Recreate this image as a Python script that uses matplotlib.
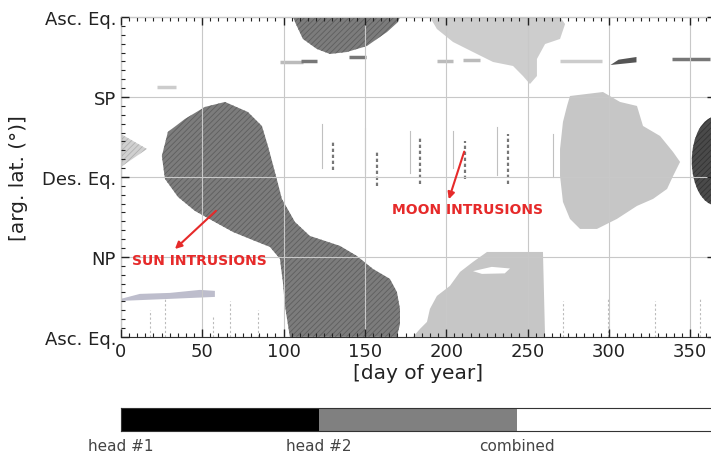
import numpy as np
import matplotlib
matplotlib.use("Agg")
import matplotlib.pyplot as plt
from matplotlib.patches import Polygon, Ellipse
from matplotlib.colors import ListedColormap

# ====== data (day of year, argument of latitude in deg) ======
sun_blob_main = [(64.0, 264.4), (78.1, 253.1), (86.7, 237.4), (90.4, 214.9), (94.7, 185.6),
                 (99.0, 155.3), (107.0, 129.4), (116.2, 113.6), (125.5, 108.0), (134.7, 102.4),
                 (145.1, 91.1), (155.0, 76.5), (165.4, 65.3), (169.7, 50.6), (171.6, 31.5),
                 (171.6, 14.6), (169.7, 0.0), (103.9, 0.0), (100.9, 34.9), (99.6, 61.9),
                 (97.8, 87.8), (91.6, 101.3), (82.4, 108.0), (68.9, 118.1), (56.6, 130.5),
                 (45.5, 141.8), (35.1, 157.5), (27.1, 177.8), (25.2, 203.6), (28.9, 230.6),
                 (39.4, 245.3), (51.7, 258.8)]
sun_blob_top = [(105.8, 360), (107.6, 352.1), (111.9, 335.3), (120.5, 324.0), (128.5, 318.4),
                (139.0, 320.6), (151.3, 327.4), (163.6, 343.1), (170.4, 354.4), (171.6, 360)]
left_edge_blob = [(0, 228.4), (16.0, 211.5), (0, 191.3)]

moon_blob_top = [(190.0, 360), (194.3, 346.5), (204.2, 331.9), (216.5, 320.6), (228.8, 309.4),
                 (241.1, 304.9), (247.2, 293.6), (251.5, 284.6), (255.8, 293.6), (255.8, 312.8),
                 (260.8, 329.6), (270.0, 335.3), (273.1, 352.1), (270.0, 360)]
moon_blob_right = [(276.1, 271.1), (296.4, 275.6), (306.9, 264.4), (317.3, 259.9), (321.0, 237.4),
                   (331.5, 226.1), (339.5, 208.1), (343.8, 196.9), (339.5, 181.1), (335.8, 166.5),
                   (327.2, 155.3), (317.3, 147.4), (305.0, 132.8), (292.7, 121.5), (282.3, 121.5),
                   (276.1, 132.8), (271.8, 151.9), (270.0, 181.1), (270.0, 211.5), (271.8, 241.9),
                   (274.3, 259.9)]
moon_blob_bottom = [(225.1, 95.6), (259.5, 95.6), (260.8, 0), (179.6, 0), (183.9, 9.0),
                    (188.2, 16.9), (190.0, 31.5), (194.3, 46.1), (202.3, 57.4), (208.5, 73.1),
                    (216.5, 84.4)]
moon_hole = [(216.5, 74.0), (228.0, 78.8), (239.2, 77.0), (236.0, 71.5), (222.0, 70.9)]
lavender_streak = [(0, 42.8), (11.7, 48.4), (30.1, 49.5), (48.6, 52.9), (57.8, 51.8),
                   (57.8, 45.0), (30.1, 42.8), (0, 40.5)]
dark_wedge = [(301.0, 306.0), (317.0, 309.0), (317.0, 315.0), (306.0, 312.0)]
edge_blob_center = (366, 198)
edge_blob_size = (30, 100)

# short horizontal streaks: day start, day end, arg. lat., gray level
streak_d0 = [97.8, 110.7, 140.2, 194.3, 210.3, 270.0, 338.9, 22.0]
streak_d1 = [112.0, 120.5, 150.7, 204.2, 220.8, 296.0, 362.0, 34.0]
streak_lat = [309.0, 310.0, 315.0, 310.0, 312.0, 311.0, 313.0, 281.0]
streak_gray = ["#bbbbbb", "#777777", "#777777", "#bbbbbb", "#bbbbbb", "#cccccc", "#777777", "#cccccc"]

# vertical moon streaks
moon_faint_days = [123.6, 150.1, 177.7, 204.2, 231.2, 265.7]
moon_faint_lat0 = [190, 185, 185, 190, 182, 180]
moon_faint_lat1 = [240, 235, 232, 232, 236, 228]
moon_dense_days = [130.4, 157.4, 183.9, 211.6, 238.0]
moon_dense_lat0 = [188, 170, 172, 178, 172]
moon_dense_lat1 = [222, 210, 226, 220, 228]

# faint streaks near the ascending equator
low_days = [17.8, 27.1, 56.6, 67.0, 84.3, 271.8, 299.5, 328.4, 356.1]
low_lat1 = [30, 45, 25, 40, 30, 40, 45, 40, 45]

ytick_vals = [0, 90, 180, 270, 360]
ytick_labels = ["Asc. Eq.", "NP", "Des. Eq.", "SP", "Asc. Eq."]
cbar_labels = ["head #1", "head #2", "combined"]
cbar_colors = ["#000000", "#808080", "#ffffff"]

# ====== plotting ======
plt.rcParams["hatch.linewidth"] = 0.6
fig = plt.figure(figsize=(7.11, 4.56), dpi=100)
ax = fig.add_axes([0.170, 0.259, 0.835, 0.7015])

dark_kw = dict(facecolor="#7c7c7c", edgecolor="#5e5e5e", hatch="//////", lw=0, zorder=1)
light_kw = dict(facecolor="#c6c6c6", edgecolor="none", lw=0, zorder=1)

ax.add_patch(Polygon(sun_blob_main, closed=True, **dark_kw))
ax.add_patch(Polygon(sun_blob_top, closed=True, **dark_kw))
ax.add_patch(Polygon(left_edge_blob, closed=True, facecolor="#d0d0d0", edgecolor="#b0b0b0",
                     hatch="//////", lw=0, zorder=1))
ax.add_patch(Polygon(moon_blob_top, closed=True, facecolor="#cdcdcd", edgecolor="none", lw=0))
ax.add_patch(Polygon(moon_blob_right, closed=True, **light_kw))
ax.add_patch(Polygon(moon_blob_bottom, closed=True, **light_kw))
ax.add_patch(Polygon(moon_hole, closed=True, facecolor="white", edgecolor="none", zorder=1.1))
ax.add_patch(Polygon(lavender_streak, closed=True, facecolor="#bdbdcc", edgecolor="none"))
ax.add_patch(Polygon(dark_wedge, closed=True, facecolor="#555555", edgecolor="none"))
ax.add_patch(Ellipse(edge_blob_center, edge_blob_size[0], edge_blob_size[1],
                     facecolor="#4a4a4a", edgecolor="#333333", hatch="//////", lw=0))

for d0, d1, lat, c in zip(streak_d0, streak_d1, streak_lat, streak_gray):
    ax.plot([d0, d1], [lat, lat], color=c, lw=2.5, solid_capstyle="butt")

for d, l0, l1 in zip(moon_faint_days, moon_faint_lat0, moon_faint_lat1):
    ax.plot([d, d], [l0, l1], color="#c0c0c0", lw=0.8)
for d, l0, l1 in zip(moon_dense_days, moon_dense_lat0, moon_dense_lat1):
    ax.plot([d, d], [l0, l1], color="#777777", lw=1.6, ls=(0, (1.5, 1.2)))
for d, l1 in zip(low_days, low_lat1):
    ax.plot([d, d], [0, l1], color="#bbbbbb", lw=0.8, ls=(0, (2, 2)))

# annotations
red = "#e62a2a"
ax.annotate("", xy=(32.0, 96.8), xytext=(59.7, 144.0),
            arrowprops=dict(arrowstyle="-|>", color=red, lw=1.5, mutation_scale=10), zorder=5)
ax.text(48.0, 86.6, "SUN INTRUSIONS", color=red, fontsize=10, fontweight="bold",
        ha="center", va="center", zorder=5)
ax.annotate("", xy=(201.1, 151.9), xytext=(211.6, 211.5),
            arrowprops=dict(arrowstyle="-|>", color=red, lw=1.5, mutation_scale=10), zorder=5)
ax.text(213.4, 144.0, "MOON INTRUSIONS", color=red, fontsize=10, fontweight="bold",
        ha="center", va="center", zorder=5)

ax.set_xlim(0, 365)
ax.set_ylim(0, 360)
ax.set_xticks(np.arange(0, 351, 50))
ax.set_xticks(np.arange(0, 366, 5), minor=True)
ax.set_yticks(ytick_vals)
ax.set_yticklabels(ytick_labels)
ax.set_yticks(np.arange(0, 361, 10), minor=True)
ax.tick_params(which="both", direction="in", top=True, right=True, labelsize=13, colors="#222222")
ax.tick_params(which="major", length=6, width=1)
ax.tick_params(which="minor", length=3, width=0.8)
ax.set_axisbelow(False)
ax.grid(True, which="major", color="#c8c8c8", lw=0.8)
ax.set_xlabel("[day of year]", fontsize=14.5, color="#222222", labelpad=2)
ax.set_ylabel("[arg. lat. (°)]", fontsize=14.5, color="#222222", labelpad=10)
for s in ax.spines.values():
    s.set_color("#333333")

# colour bar
cax = fig.add_axes([0.170, 0.0526, 0.835, 0.0504])
cmap = ListedColormap(cbar_colors)
cax.pcolormesh(np.arange(len(cbar_colors) + 1), [0, 1],
               np.arange(len(cbar_colors))[None, :], cmap=cmap, vmin=0, vmax=len(cbar_colors) - 1)
cax.set_xlim(0, 3)
cax.set_ylim(0, 1)
cax.set_yticks([])
cax.set_xticks(np.arange(len(cbar_labels)))
cax.set_xticklabels(cbar_labels, fontsize=11, color="#444444")
cax.tick_params(length=0, pad=5)
for s in cax.spines.values():
    s.set_color("#333333")

fig.savefig("out.png", dpi=100)
